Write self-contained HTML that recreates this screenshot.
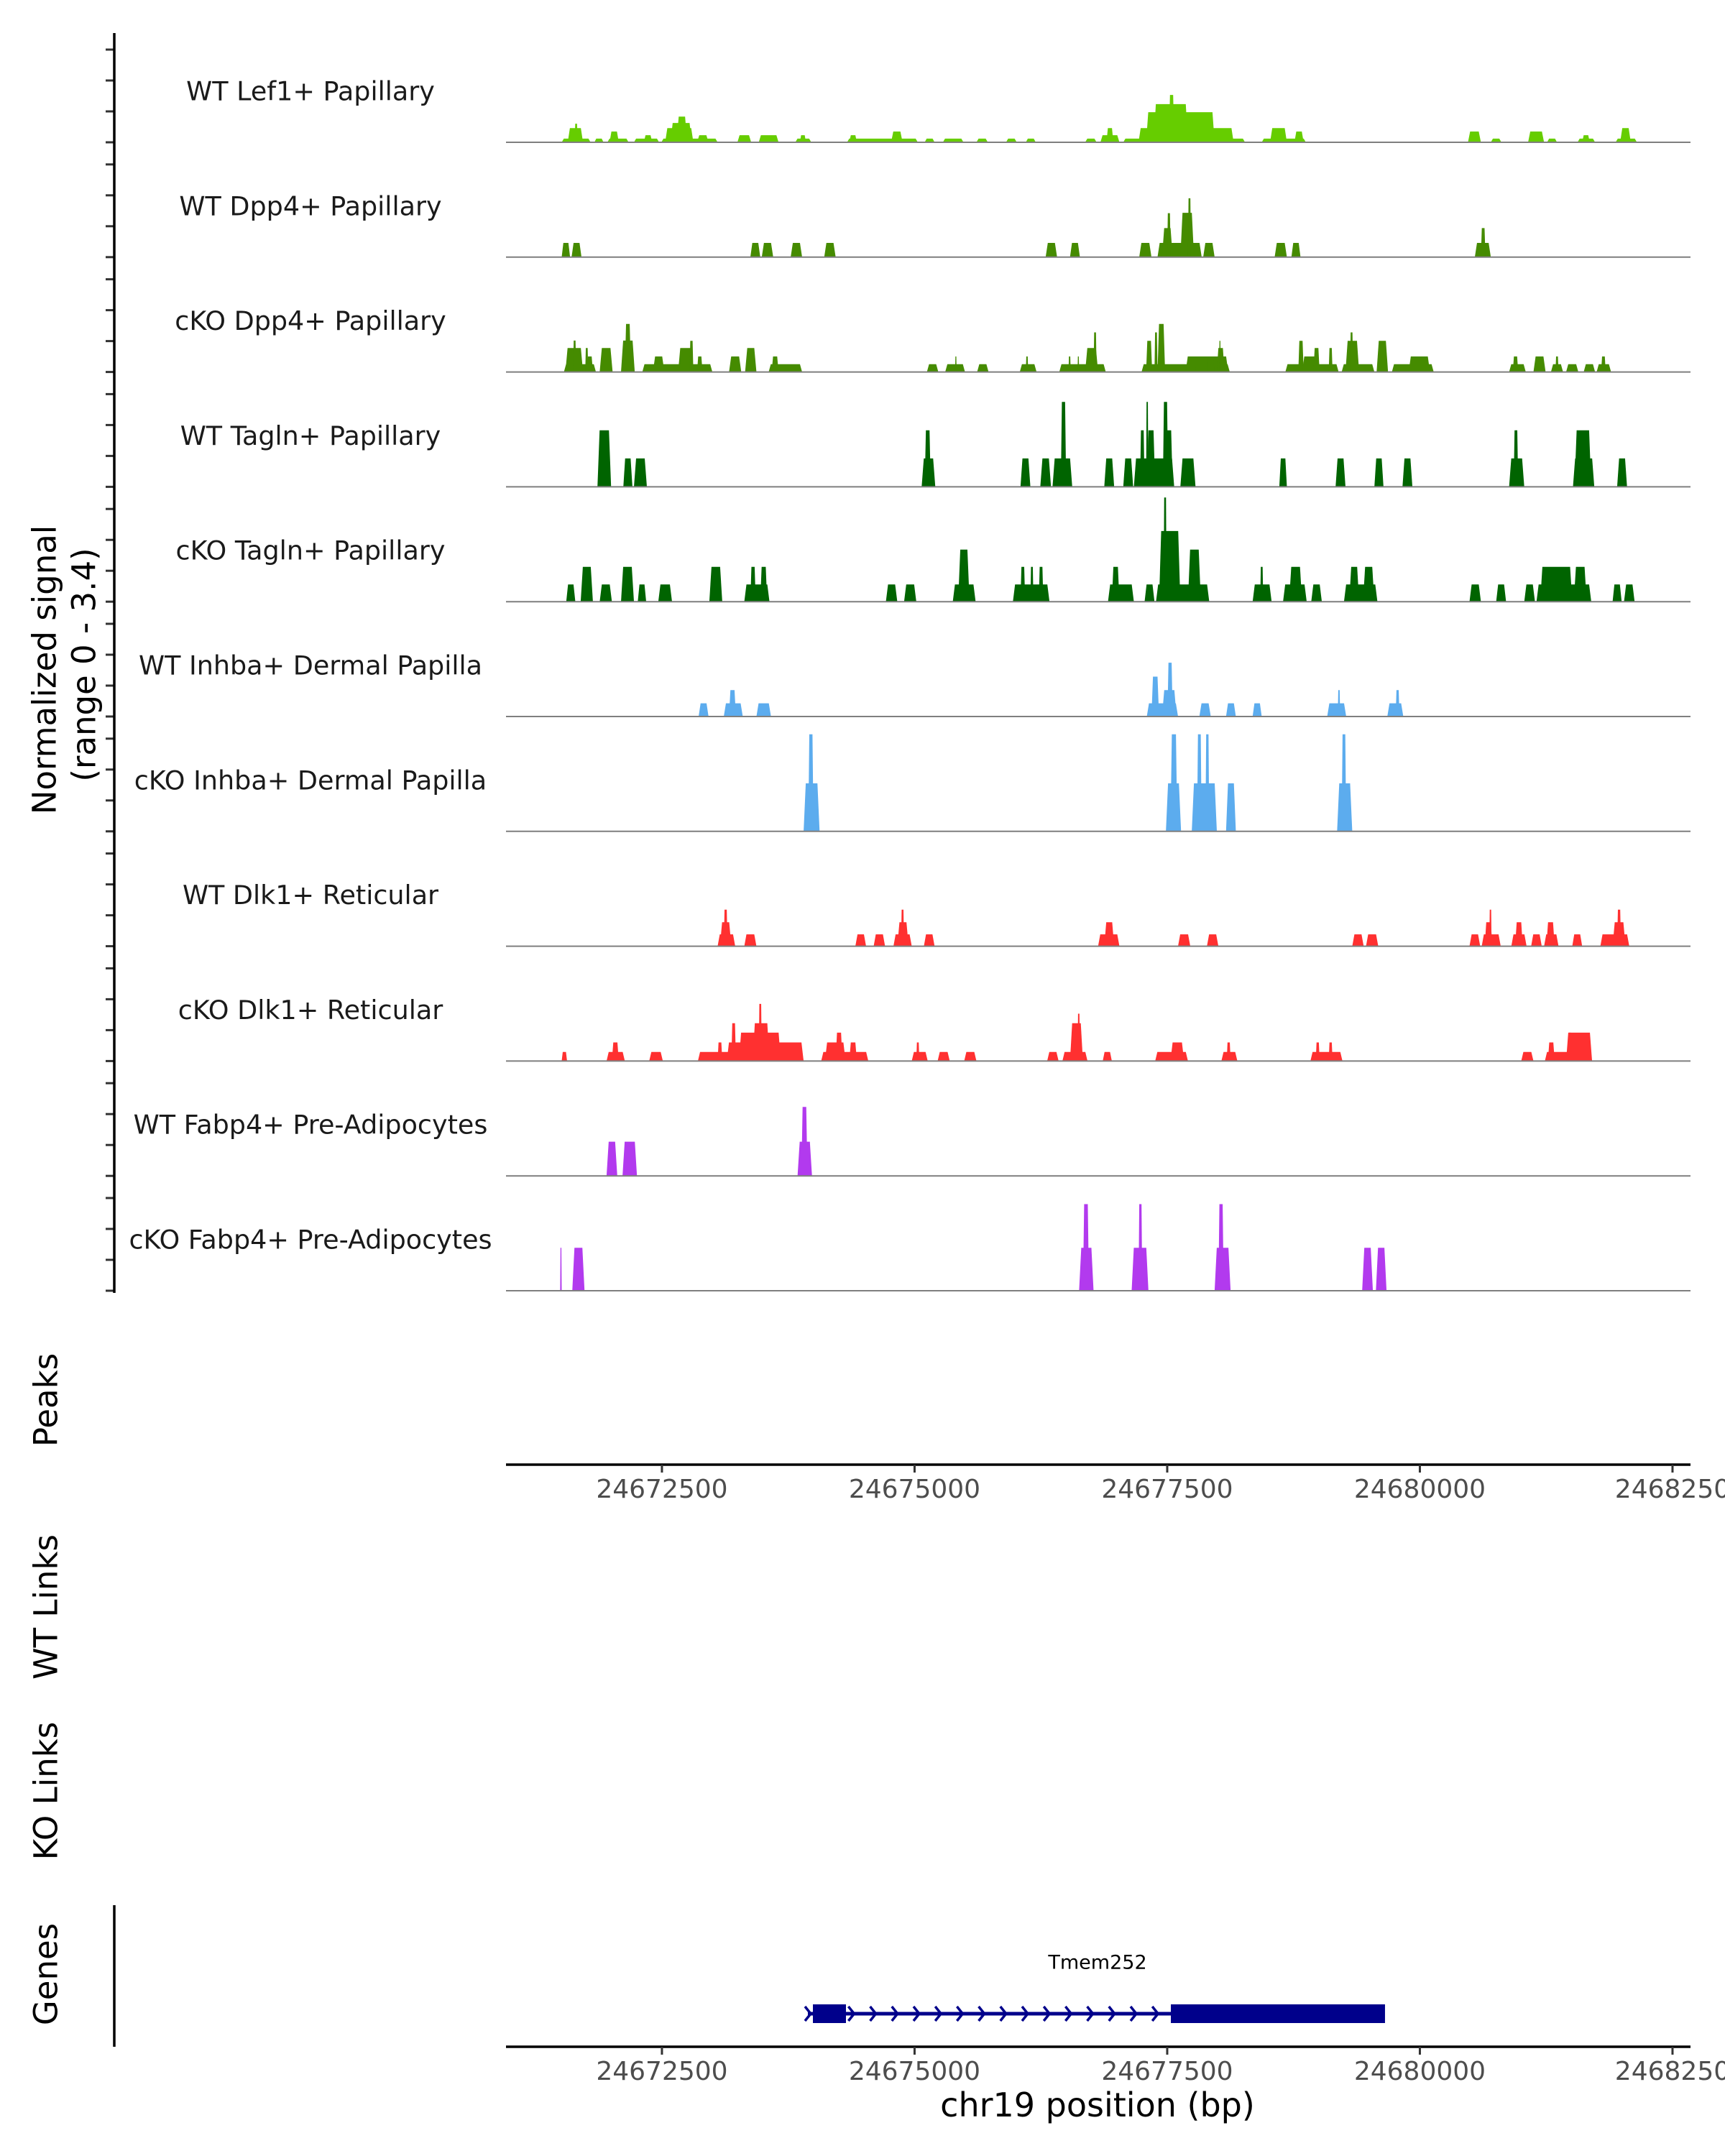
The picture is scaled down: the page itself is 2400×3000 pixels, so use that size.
<!DOCTYPE html>
<html>
<head>
<meta charset="utf-8">
<style>
  html, body { margin: 0; padding: 0; background: #ffffff; }
  body { width: 2400px; height: 3000px; overflow: hidden; }
  svg { display: block; font-family: "DejaVu Sans", "Liberation Sans", sans-serif; }
</style>
</head>
<body>
<svg id="chart" width="2400" height="3000" viewBox="0 0 2400 3000" xmlns="http://www.w3.org/2000/svg">
  <rect x="0" y="0" width="2400" height="3000" fill="#ffffff"/>
  <g id="tracks"></g>
  <g id="axes"></g>
  <g id="genes"></g>
</svg>
<script>
// ---- data ----
const offsetOrigin = 24670928; // bp; peak positions below are bp offsets from this
const xDomain = [24670957, 24682678];
const xTicks = [24672500, 24675000, 24677500, 24680000, 24682500];
const xTickLabels = ["24672500", "24675000", "24677500", "24680000", "2468250"];
const yMax = 3.4;
const trackNames = ["WT Lef1+ Papillary","WT Dpp4+ Papillary","cKO Dpp4+ Papillary","WT Tagln+ Papillary","cKO Tagln+ Papillary","WT Inhba+ Dermal Papilla","cKO Inhba+ Dermal Papilla","WT Dlk1+ Reticular","cKO Dlk1+ Reticular","WT Fabp4+ Pre-Adipocytes","cKO Fabp4+ Pre-Adipocytes"];
const trackColors = ["#66CD00","#458B00","#458B00","#006400","#006400","#5CACEE","#5CACEE","#FF3030","#FF3030","#B23AEE","#B23AEE"];

// peaks: [startOffsetBp, endOffsetBp, signal]
const peaksWtLef1 = [[580,866,0.11],[640,791,0.42],[708,738,0.55],[904,994,0.11],[1032,1242,0.11],[1054,1145,0.32],[1295,1544,0.11],[1393,1476,0.21],[1566,2123,0.11],[1604,1883,0.42],[1657,1867,0.57],[1717,1822,0.76],[1920,2033,0.21],[2319,2455,0.21],[2530,2726,0.21],[2892,3050,0.11],[2937,2997,0.21],[3404,4104,0.11],[3426,3501,0.21],[3840,3953,0.32],[4172,4270,0.11],[4352,4556,0.11],[4684,4797,0.11],[4977,5083,0.11],[5173,5271,0.11],[5760,5873,0.11],[5911,6099,0.21],[5971,6039,0.42],[6137,7342,0.11],[6288,7229,0.42],[6363,7041,0.89],[6438,6777,1.13],[6589,6641,1.40],[6815,7003,0.64],[7590,7756,0.42],[7507,7944,0.11],[7831,7922,0.32],[9548,9676,0.32],[9774,9879,0.11],[10143,10301,0.32],[10331,10429,0.11],[10632,10806,0.11],[10678,10753,0.21],[11009,11220,0.11],[11054,11159,0.42]];
const peaksWtDpp4 = [[580,663,0.42],[678,776,0.42],[2447,2545,0.42],[2560,2673,0.42],[2846,2959,0.42],[3178,3291,0.42],[5369,5482,0.42],[5610,5708,0.42],[6295,6416,0.42],[6476,6913,0.42],[6521,6626,0.86],[6571,6606,1.30],[6702,6837,1.31],[6777,6807,1.74],[6928,7041,0.42],[7635,7756,0.42],[7801,7891,0.42],[9616,9774,0.42],[9676,9721,0.86]];
const peaksKoDpp4 = [[602,919,0.23],[617,791,0.71],[693,723,0.93],[813,843,0.71],[828,889,0.46],[956,1084,0.71],[1167,1303,0.93],[1205,1265,1.42],[1378,2071,0.23],[1483,1596,0.46],[1732,1883,0.71],[1845,1883,0.92],[1920,1973,0.46],[2236,2357,0.46],[2395,2507,0.71],[2628,2959,0.23],[2658,2726,0.46],[4194,4307,0.23],[4375,4571,0.23],[4473,4488,0.46],[4691,4804,0.23],[5113,5279,0.23],[5173,5196,0.46],[5504,5964,0.23],[5595,5617,0.46],[5685,5700,0.46],[5760,5888,0.71],[5843,5873,1.17],[6318,7191,0.23],[6363,6423,0.92],[6446,6476,1.17],[6476,6551,1.42],[6754,7176,0.46],[6815,6852,0.46],[6965,7041,0.46],[7063,7138,0.71],[7086,7101,0.92],[7741,8268,0.23],[7869,7922,0.92],[7907,8057,0.46],[8019,8080,0.71],[8170,8208,0.71],[8298,8622,0.23],[8336,8471,0.92],[8381,8411,1.17],[8644,8757,0.92],[8795,9209,0.23],[8961,9172,0.46],[9955,10120,0.23],[9992,10045,0.46],[10196,10316,0.46],[10369,10489,0.23],[10414,10444,0.46],[10519,10640,0.23],[10693,10806,0.23],[10821,10964,0.23],[10866,10911,0.46]];
const peaksWtTagln = [[934,1069,1.67],[1190,1280,0.84],[1295,1423,0.84],[4142,4277,0.84],[4172,4232,1.67],[5120,5218,0.84],[5316,5422,0.84],[5437,5632,0.84],[5519,5572,2.51],[5949,6047,0.84],[6137,6235,0.84],[6242,6641,0.84],[6303,6348,1.67],[6363,6385,2.51],[6370,6453,1.67],[6529,6581,2.51],[6551,6626,1.67],[6702,6852,0.84],[7681,7756,0.84],[8238,8336,0.84],[8622,8712,0.84],[8900,8998,0.84],[9955,10105,0.84],[10000,10045,1.67],[10587,10798,0.84],[10602,10768,1.67],[11024,11122,0.84]];
const peaksKoTagln = [[625,715,0.51],[768,889,1.03],[956,1077,0.51],[1167,1295,1.03],[1333,1416,0.51],[1536,1672,0.51],[2041,2169,1.03],[2387,2636,0.51],[2447,2500,1.03],[2545,2613,1.03],[3788,3901,0.51],[3968,4089,0.51],[4450,4676,0.51],[4503,4616,1.54],[5045,5407,0.51],[5120,5166,1.03],[5218,5248,1.03],[5301,5346,1.03],[5986,6242,0.51],[6024,6099,1.03],[6348,6446,0.51],[6461,6988,0.51],[6491,6702,2.09],[6536,6566,3.08],[6551,6687,1.54],[6777,6905,1.54],[7417,7605,0.51],[7492,7522,1.03],[7718,7952,0.51],[7778,7907,1.03],[7997,8102,0.51],[8321,8652,0.51],[8373,8471,1.03],[8509,8622,1.03],[9563,9676,0.51],[9827,9925,0.51],[10105,10211,0.51],[10226,10768,0.51],[10263,10580,1.03],[10595,10723,1.03],[10979,11069,0.51],[11092,11197,0.51]];
const peaksWtInhba = [[1935,2033,0.39],[2184,2372,0.39],[2236,2304,0.78],[2507,2651,0.39],[6370,6679,0.39],[6416,6491,1.18],[6574,6626,1.59],[6521,6664,0.78],[6890,7003,0.39],[7154,7251,0.39],[7417,7507,0.39],[8155,8343,0.39],[8260,8283,0.78],[8750,8908,0.39],[8833,8870,0.78]];
const peaksKoInhba = [[2974,3132,1.42],[3020,3072,2.87],[6559,6709,1.42],[6604,6672,2.87],[6815,7063,1.42],[6867,6913,2.87],[6950,6988,2.87],[7154,7251,1.42],[8253,8403,1.42],[8298,8343,2.87]];
const peaksWtDlk1 = [[2123,2297,0.35],[2146,2259,0.71],[2184,2221,1.08],[2387,2507,0.35],[3486,3592,0.35],[3667,3780,0.35],[3863,4044,0.35],[3901,4013,0.71],[3938,3968,1.08],[4164,4270,0.35],[5888,6099,0.35],[5949,6047,0.71],[6679,6800,0.35],[6965,7078,0.35],[8403,8516,0.35],[8539,8660,0.35],[9563,9669,0.35],[9684,9872,0.35],[9714,9789,0.71],[9759,9782,1.08],[9977,10128,0.35],[10015,10090,0.71],[10173,10278,0.35],[10301,10444,0.35],[10324,10406,0.71],[10580,10678,0.35],[10858,11144,0.35],[10979,11107,0.71],[11024,11062,1.08]];
const peaksKoDlk1 = [[580,633,0.27],[1024,1205,0.27],[1077,1145,0.55],[1446,1581,0.27],[1928,2974,0.27],[2123,2169,0.55],[2214,2974,0.55],[2259,2304,1.12],[2334,2748,0.84],[2470,2636,1.12],[2530,2560,1.69],[3148,3614,0.27],[3185,3389,0.55],[3291,3358,0.84],[3426,3501,0.55],[4044,4202,0.27],[4089,4119,0.55],[4300,4420,0.27],[4563,4684,0.27],[5384,5497,0.27],[5535,5783,0.27],[5610,5738,1.12],[5685,5708,1.40],[5934,6024,0.27],[6453,6777,0.27],[6604,6739,0.55],[7108,7266,0.27],[7161,7199,0.55],[7989,8306,0.27],[8042,8080,0.55],[8170,8208,0.55],[10075,10196,0.27],[10309,10776,0.27],[10339,10406,0.55],[10519,10776,0.84],[10542,10572,0.84]];
const peaksWtFabp4 = [[1024,1130,1.01],[1182,1325,1.01],[2914,3057,1.01],[2952,3012,2.04]];
const peaksKoFabp4 = [[565,580,1.27],[685,806,1.27],[5700,5843,1.27],[5738,5798,2.56],[6220,6386,1.27],[6288,6325,2.56],[7041,7199,1.27],[7078,7131,2.56],[8501,8607,1.27],[8637,8742,1.27]];
const trackPeaks = [peaksWtLef1, peaksWtDpp4, peaksKoDpp4, peaksWtTagln, peaksKoTagln, peaksWtInhba, peaksKoInhba, peaksWtDlk1, peaksKoDlk1, peaksWtFabp4, peaksKoFabp4];

// gene model (bp)
const geneName = "Tmem252";
const geneStart = 24673944;
const geneEnd = 24679641;
const exonStarts = [24673994, 24677536];
const exonEnds = [24674321, 24679655];

// ---- layout / scales ----
const NS = "http://www.w3.org/2000/svg";
const plotLeft = 704, plotRight = 2352;
const firstBaseline = 198, trackStep = 159.8, trackHeight = 160;
function xScale(bp) { return plotLeft + (bp - xDomain[0]) / (xDomain[1] - xDomain[0]) * (plotRight - plotLeft); }
function yScale(v, i) { return firstBaseline + i * trackStep - v / yMax * trackHeight; }
function mk(tag, attrs, parent) {
  const el = document.createElementNS(NS, tag);
  for (const k in attrs) el.setAttribute(k, attrs[k]);
  parent.appendChild(el);
  return el;
}

const tracksG = document.getElementById('tracks');
const axesG = document.getElementById('axes');
const genesG = document.getElementById('genes');

// tracks
trackNames.forEach((name, i) => {
  const g = mk('g', {}, tracksG);
  
  
  const base = yScale(0, i);
  trackPeaks[i].forEach(p => {
    const x0 = xScale(offsetOrigin + p[0]), x1 = xScale(offsetOrigin + p[1]);
    const yt = yScale(p[2], i);
    const s = Math.min(3, (x1 - x0) * 0.2);
    const poly = mk('polygon', {
      points: `${x0},${base} ${x0 + s},${yt} ${x1 - s},${yt} ${x1},${base}`,
      fill: trackColors[i]
    }, g);
    
    
  });
  const bl = mk('line', { x1: plotLeft, x2: plotRight, y1: base, y2: base, stroke: '#7f7f7f', 'stroke-width': 2 }, g);
  
  
  const t = mk('text', { x: 432, y: base - 71, 'font-size': 36.5, fill: '#1a1a1a', 'text-anchor': 'middle', 'dominant-baseline': 'central' }, g);
  t.textContent = name;
  
  
  [0, 43, 86, 129].forEach(d => {
    const tk = mk('line', { x1: 147, x2: 159, y1: base - d, y2: base - d, stroke: '#333333', 'stroke-width': 3 }, axesG);
    
    
  });
});

// left y axis line
const yAxis = mk('line', { x1: 159, x2: 159, y1: 46, y2: 1799, stroke: '#000', 'stroke-width': 3.5 }, axesG);



// y titles
function vtitle(txt, x, y, name) {
  const t = mk('text', { x: x, y: y, 'font-size': 45, fill: '#000', 'text-anchor': 'middle', 'dominant-baseline': 'central', transform: `rotate(-90 ${x} ${y})` }, axesG);
  t.textContent = txt;
  
  
}
vtitle('Normalized signal', 62, 932, 'y-axis-title');
vtitle('(range 0 - 3.4)', 117, 925, 'y-axis-subtitle');
vtitle('Peaks', 64, 1948, 'peaks-title');
vtitle('WT Links', 64, 2236, 'wt-links-title');
vtitle('KO Links', 64, 2492, 'ko-links-title');
vtitle('Genes', 64, 2747, 'genes-title');

// genes axis
const gAxis = mk('line', { x1: 159, x2: 159, y1: 2651, y2: 2848, stroke: '#000', 'stroke-width': 3.5 }, axesG);



// x axes
function xAxis(y, name) {
  const g = mk('g', {}, axesG);
  
  
  const l = mk('line', { x1: plotLeft, x2: plotRight, y1: y, y2: y, stroke: '#000', 'stroke-width': 3.5 }, g);
  
  
  xTicks.forEach((tv, k) => {
    const x = xScale(tv);
    const tk = mk('line', { x1: x, x2: x, y1: y, y2: y + 11, stroke: '#333333', 'stroke-width': 3 }, g);
    
    
    const lb = mk('text', { x: x, y: y + 46, 'font-size': 36, fill: '#4d4d4d', 'text-anchor': 'middle' }, g);
    lb.textContent = xTickLabels[k];
    
    
  });
}
xAxis(2038, 'peaks-x-axis');
xAxis(2848, 'genes-x-axis');
const xt = mk('text', { x: 1527, y: 2945, 'font-size': 46, fill: '#000', 'text-anchor': 'middle' }, axesG);
xt.textContent = 'chr19 position (bp)';



// gene model
const gy = 2802;
const gl = mk('line', { x1: xScale(geneStart), x2: xScale(geneEnd), y1: gy, y2: gy, stroke: '#00008B', 'stroke-width': 5 }, genesG);


for (let x = xScale(geneStart); x < xScale(exonStarts[1]) - 8; x += 30.2) {
  const c = mk('polyline', { points: `${x - 4},${gy - 10} ${x + 4},${gy} ${x - 4},${gy + 10}`, fill: 'none', stroke: '#00008B', 'stroke-width': 3.5 }, genesG);
  
  
}
exonStarts.forEach((s, k) => {
  const r = mk('rect', { x: xScale(s), y: gy - 13, width: xScale(exonEnds[k]) - xScale(s), height: 26, fill: '#00008B' }, genesG);
  
  
});
const gt = mk('text', { x: 1527, y: 2731, 'font-size': 27, fill: '#000', 'text-anchor': 'middle', 'dominant-baseline': 'central' }, genesG);
gt.textContent = geneName;


</script>
</body>
</html>
